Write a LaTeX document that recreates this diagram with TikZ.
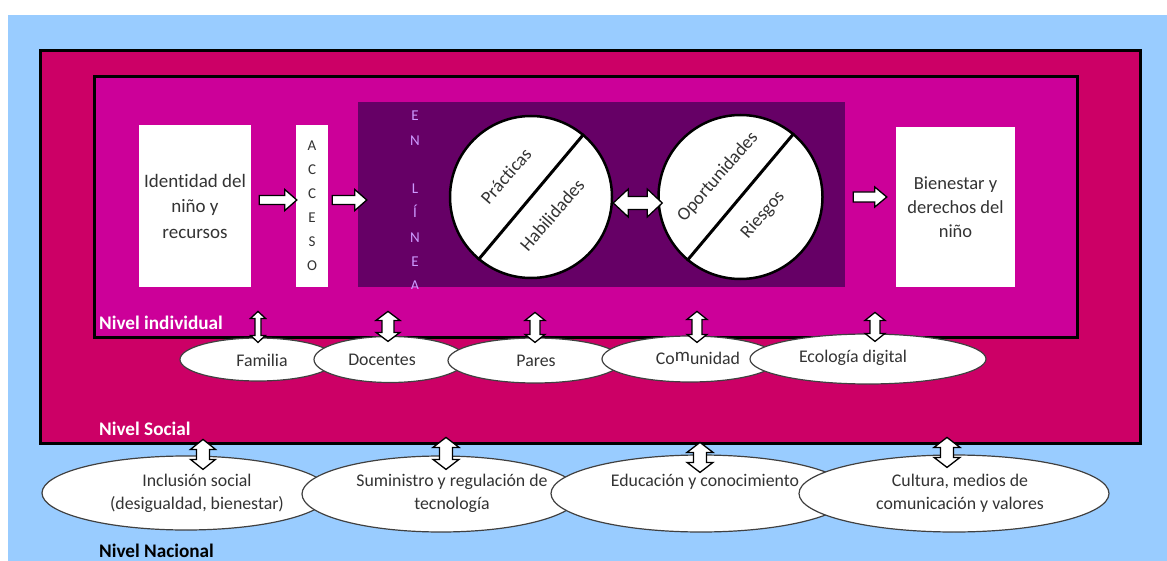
\documentclass[tikz,border=0pt]{standalone}
\usepackage{fontspec}
\setmainfont{Carlito}[Ligatures=NoCommon]
\usetikzlibrary{calc,shapes.geometric}
\definecolor{sky}{HTML}{99CCFF}
\definecolor{crim}{HTML}{CC0066}
\definecolor{mag}{HTML}{CC0099}
\definecolor{plum}{HTML}{660066}
\definecolor{lav}{HTML}{CC99FF}
\definecolor{ink}{HTML}{333333}
\newcommand{\myfs}[2]{\fontsize{#1}{#2}\selectfont}
% single right block arrow: #1 tail, #2 tip, #3 shaft half, #4 head half, #5 head length
\newcommand{\harr}[5]{%
  \draw[blk] let \p1=(#1), \p2=(#2) in
   (\x1,\y1+#3) -- (\x2-#5,\y1+#3) -- (\x2-#5,\y1+#4) -- (\x2,\y1)
   -- (\x2-#5,\y1-#4) -- (\x2-#5,\y1-#3) -- (\x1,\y1-#3) -- cycle;}
% double horizontal block arrow
\newcommand{\dharr}[5]{%
  \draw[blk] let \p1=(#1), \p2=(#2) in
   (\x1,\y1) -- (\x1+#5,\y1+#4) -- (\x1+#5,\y1+#3) -- (\x2-#5,\y1+#3)
   -- (\x2-#5,\y1+#4) -- (\x2,\y1) -- (\x2-#5,\y1-#4) -- (\x2-#5,\y1-#3)
   -- (\x1+#5,\y1-#3) -- (\x1+#5,\y1-#4) -- cycle;}
% double vertical block arrow: #1 top, #2 bottom
\newcommand{\dvarr}[5]{%
  \draw[blk] let \p1=(#1), \p2=(#2) in
   (\x1,\y1) -- (\x1+#4,\y1-#5) -- (\x1+#3,\y1-#5) -- (\x1+#3,\y2+#5)
   -- (\x1+#4,\y2+#5) -- (\x1,\y2) -- (\x1-#4,\y2+#5) -- (\x1-#3,\y2+#5)
   -- (\x1-#3,\y1-#5) -- (\x1-#4,\y1-#5) -- cycle;}
\begin{document}
\begin{tikzpicture}[x=1pt,y=-1pt,
  frame/.style={draw=black, line width=3pt, inner sep=0},
  wbox/.style={fill=white, inner sep=0, align=center, text=ink, font=\myfs{19}{25.5}},
  letters/.style={inner sep=0, align=center, font=\myfs{15}{24.3}},
  disc/.style={circle, draw=black, line width=2.5pt, fill=white, minimum size=162, inner sep=0},
  cut/.style={draw=black, line width=3pt},
  ctxt/.style={rotate=49, text=ink, font=\myfs{18.5}{20}, inner sep=0},
  ell/.style={ellipse, draw=black!75, fill=white, line width=1.2pt, inner sep=0},
  etxt/.style={text=ink, font=\myfs{17.8}{23}, align=center, inner sep=0},
  lvl/.style={font=\bfseries\myfs{19.2}{20}, inner sep=0, anchor=west},
  blk/.style={fill=white, draw=black, line width=1.3pt, line join=miter}]
\useasboundingbox (0,0) rectangle (1167,561);
\fill[sky] (8,15) rectangle (1167,561);
% level frames
\node[frame, fill=crim, minimum width=1100, minimum height=392] (soc) at (590,247) {};
\node[frame, fill=mag, minimum width=983, minimum height=260] (ind) at (585.5,207) {};
\node[fill=plum, inner sep=0, minimum width=487, minimum height=185] (onl) at (601.5,194.5) {};
% EN LINEA column
\begin{scope}
  \clip (358,111) rectangle (845,289);
  \node[letters, text=lav] (enl) at (415,201) {E\\N\\\mbox{}\\L\\Í\\N\\E\\A};
\end{scope}
% boxes
\node[wbox, minimum width=112, minimum height=162] (id) at (195,206) {Identidad del\\niño y\\recursos};
\node[wbox, minimum width=32, minimum height=162, font=\myfs{15}{24}] (acc) at (312,206) {A\\C\\C\\E\\S\\O};
\node[wbox, minimum width=119, minimum height=160, font=\myfs{18.5}{24}] (bie) at (955.5,207) {Bienestar y\\derechos del\\niño};
% circles
\node[disc] (c1) at (531,197) {};
\draw[cut] (c1.50) -- (c1.230);
\node[ctxt] (prac) at (506,176) {Prácticas};
\node[ctxt] (hab) at (552,215) {Habilidades};
\node[disc, minimum size=164] (c2) at (740.5,197) {};
\draw[cut] (c2.50) -- (c2.230);
\node[ctxt] (opo) at (718,177) {Oportunidades};
\node[ctxt] (rie) at (763,215) {Riesgos};
% horizontal block arrows
\harr{$(id.east)+(8,-6)$}{$(acc.west)+(1,-6)$}{4.5pt}{10.5pt}{12pt}
\harr{$(acc.east)+(4,-6)$}{$(onl.west |- acc.east)+(9,-6)$}{4.5pt}{10.5pt}{12pt}
\dharr{$(c1.east)+(0,6)$}{$(c2.west)+(5,6)$}{6.5pt}{14pt}{15pt}
\harr{$(onl.east |- bie.west)+(8,-10)$}{$(bie.west)+(-9,-10)$}{5pt}{10pt}{12pt}
% level labels
\node[lvl, text=white] (lind) at (99,323) {Nivel individual};
\node[lvl, text=white] (lsoc) at (99,429) {Nivel Social};
\node[lvl, text=black] (lnac) at (99,551) {Nivel Nacional};
% social level ellipses
\node[ell, minimum width=156, minimum height=43] (fam) at (258,359.5) {};
\node[etxt] (famt) at (262,360) {Familia};
\node[ell, minimum width=152, minimum height=46] (doc) at (390,359.5) {};
\node[etxt] (doct) at (382,360) {Docentes};
\node[ell, minimum width=174, minimum height=45] (par) at (535,360.5) {};
\node[etxt] (part) at (536,361) {Pares};
\node[ell, minimum width=176, minimum height=46] (com) at (690,359) {};
\node[etxt] (comt) at (698,358) {Co\raisebox{3pt}{\myfs{19}{20}m}unidad};
\node[ell, minimum width=236, minimum height=50] (eco) at (868,359) {};
\node[etxt] (ecot) at (853,358) {Ecología digital};
% national level ellipses
\node[ell, minimum width=288, minimum height=74] (inc) at (186,493) {};
\node[etxt] (inct) at (197,493) {Inclusión social\\(desigualdad, bienestar)};
\node[ell, minimum width=278, minimum height=76] (sum) at (441,494) {};
\node[etxt] (sumt) at (452,493) {Suministro y regulación de\\tecnología};
\node[ell, minimum width=300, minimum height=77] (edu) at (701,493.5) {};
\node[etxt] (edut) at (705,482) {Educación y conocimiento};
\node[ell, minimum width=310, minimum height=77] (cul) at (954,493.5) {};
\node[etxt] (cult) at (960,493) {Cultura, medios de\\comunicación y valores};
% vertical block arrows, individual <-> social
\dvarr{$(fam.north)+(0,-26)$}{$(fam.north)+(0,5)$}{3pt}{7.5pt}{7pt}
\dvarr{$(doc.north)+(-2,-24.5)$}{$(doc.north)+(-2,5.5)$}{6pt}{12pt}{9pt}
\dvarr{$(par.north)+(0,-25)$}{$(par.north)+(0,5)$}{5pt}{10pt}{8pt}
\dvarr{$(com.north)+(7,-24)$}{$(com.north)+(7,7)$}{5pt}{10pt}{8pt}
\dvarr{$(eco.north)+(7,-21)$}{$(eco.north)+(7,8)$}{5pt}{10pt}{8pt}
% vertical block arrows, social <-> national
\dvarr{$(inc.north)+(17,-16)$}{$(inc.north)+(17,14)$}{6.5pt}{12.5pt}{10pt}
\dvarr{$(sum.north)+(5,-18)$}{$(sum.north)+(5,14)$}{6.5pt}{13pt}{10pt}
\dvarr{$(edu.north)+(-1,-12)$}{$(edu.north)+(-1,18)$}{6.5pt}{13pt}{10pt}
\dvarr{$(cul.north)+(-7,-17)$}{$(cul.north)+(-7,13)$}{6.5pt}{13pt}{10pt}
\end{tikzpicture}
\end{document}
